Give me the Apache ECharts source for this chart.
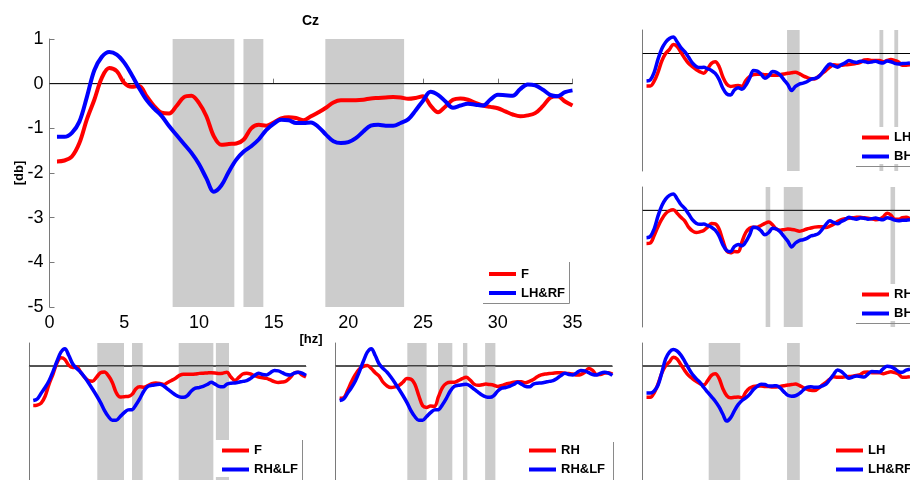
<!DOCTYPE html>
<html><head><meta charset="utf-8">
<script src="https://cdn.jsdelivr.net/npm/echarts@6/dist/echarts.min.js"></script>
<style>html,body{margin:0;padding:0;background:#fff}#c{width:910px;height:480px}</style>
</head><body><div id="c"></div>
<script>
// ---- data ----
const freq = [0.5,1,1.5,2,2.5,3,3.5,4,4.5,5,5.5,6,6.5,7,7.5,8,8.5,9,9.5,10,
  10.5,11,11.5,12,12.5,13,13.5,14,14.5,15,15.5,16,16.5,17,17.5,18,18.5,19,19.5,20,
  20.5,21,21.5,22,22.5,23,23.5,24,24.5,25,25.5,26,26.5,27,27.5,28,28.5,29,29.5,30,
  30.5,31,31.5,32,32.5,33,33.5,34,34.5,35];
const F = [-1.74,-1.72,-1.63,-1.33,-0.8,-0.36,0.13,0.35,0.28,0.02,
  -0.07,-0.05,-0.28,-0.5,-0.65,-0.67,-0.5,-0.3,-0.27,-0.43,
  -0.73,-1.18,-1.37,-1.35,-1.34,-1.25,-1.0,-0.92,-0.94,-0.87,
  -0.78,-0.75,-0.77,-0.82,-0.73,-0.64,-0.54,-0.42,-0.37,-0.37,
  -0.37,-0.36,-0.33,-0.32,-0.31,-0.3,-0.31,-0.34,-0.32,-0.28,
  -0.49,-0.64,-0.51,-0.36,-0.33,-0.36,-0.43,-0.49,-0.52,-0.55,
  -0.62,-0.69,-0.73,-0.71,-0.66,-0.51,-0.32,-0.28,-0.4,-0.49];
const LH_RF = [-1.19,-1.19,-1.1,-0.85,-0.3,0.3,0.6,0.71,0.65,0.47,
  0.2,-0.1,-0.37,-0.56,-0.72,-0.95,-1.15,-1.35,-1.55,-1.8,
  -2.12,-2.42,-2.28,-1.97,-1.7,-1.52,-1.4,-1.25,-1.04,-0.9,
  -0.81,-0.82,-0.88,-0.88,-0.87,-0.97,-1.14,-1.29,-1.33,-1.31,
  -1.22,-1.07,-0.94,-0.92,-0.94,-0.94,-0.88,-0.8,-0.6,-0.38,
  -0.18,-0.25,-0.4,-0.54,-0.49,-0.45,-0.47,-0.49,-0.36,-0.25,
  -0.26,-0.27,-0.12,-0.02,-0.04,-0.13,-0.25,-0.28,-0.19,-0.15];
const RH_LF = [-1.52,-1.45,-1.2,-0.95,-0.65,-0.25,0.2,0.6,0.75,0.45,
  0.08,-0.12,-0.28,-0.5,-0.75,-1.02,-1.3,-1.6,-1.95,-2.22,
  -2.38,-2.38,-2.22,-2.05,-1.93,-1.92,-1.7,-1.42,-1.1,-0.9,
  -0.85,-0.83,-0.81,-0.88,-1.02,-1.15,-1.28,-1.36,-1.38,-1.3,
  -1.1,-0.98,-0.95,-0.9,-0.82,-0.72,-0.8,-0.9,-0.92,-0.8,
  -0.76,-0.75,-0.72,-0.68,-0.65,-0.55,-0.42,-0.33,-0.38,-0.4,
  -0.3,-0.2,-0.22,-0.3,-0.38,-0.4,-0.32,-0.28,-0.32,-0.42];
const LH = [-1.38,-1.38,-1.18,-0.8,-0.32,0.0,0.17,0.38,0.3,0.05,
  -0.2,-0.42,-0.56,-0.68,-0.78,-0.84,-0.65,-0.42,-0.35,-0.55,
  -1.0,-1.3,-1.4,-1.38,-1.36,-1.4,-1.15,-0.98,-0.9,-0.88,
  -0.88,-0.9,-0.91,-0.93,-0.93,-0.9,-0.87,-0.84,-0.82,-0.8,
  -0.86,-0.95,-1.02,-1.07,-1.08,-0.98,-0.85,-0.72,-0.58,-0.48,
  -0.5,-0.5,-0.48,-0.47,-0.45,-0.42,-0.38,-0.28,-0.27,-0.3,
  -0.3,-0.3,-0.35,-0.3,-0.26,-0.3,-0.36,-0.5,-0.5,-0.48];
const RH = [-1.42,-1.4,-1.08,-0.7,-0.38,-0.14,-0.02,0.02,-0.12,-0.3,
  -0.45,-0.72,-0.88,-0.95,-0.92,-0.86,-0.72,-0.56,-0.58,-0.8,
  -1.3,-1.75,-1.82,-1.76,-1.78,-1.35,-0.95,-0.77,-0.72,-0.72,
  -0.65,-0.56,-0.5,-0.62,-0.8,-0.85,-0.83,-0.8,-0.82,-0.85,
  -0.9,-0.86,-0.8,-0.76,-0.72,-0.7,-0.7,-0.74,-0.68,-0.6,
  -0.48,-0.4,-0.36,-0.34,-0.32,-0.3,-0.3,-0.32,-0.34,-0.36,
  -0.4,-0.38,-0.28,-0.12,-0.2,-0.38,-0.38,-0.32,-0.3,-0.36];
const BH = [-1.17,-1.12,-0.8,-0.25,0.2,0.48,0.64,0.7,0.5,0.25,
  0.08,-0.15,-0.4,-0.55,-0.6,-0.59,-0.65,-0.72,-0.85,-1.1,
  -1.48,-1.72,-1.77,-1.55,-1.46,-1.52,-1.35,-1.05,-0.72,-0.75,
  -0.88,-1.05,-0.95,-0.77,-0.8,-0.92,-1.12,-1.32,-1.57,-1.4,
  -1.3,-1.26,-1.2,-1.1,-1.06,-1.0,-0.82,-0.6,-0.45,-0.52,
  -0.58,-0.48,-0.4,-0.3,-0.35,-0.38,-0.33,-0.34,-0.38,-0.36,
  -0.33,-0.38,-0.4,-0.32,-0.35,-0.42,-0.45,-0.43,-0.42,-0.4];
// significance bands (Hz)
const bandsCz = [[8.24,12.37],[12.98,14.31],[18.46,23.73]];
const bandsLHvsBH = [[18.9,20.55],[31.0,31.5],[32.95,33.45]];
const bandsRHvsBH = [[16.1,16.7],[18.47,20.95],[32.45,33.05]];
const bandsFvsRHLF = [[8.6,11.98],[12.99,14.34],[18.9,23.28],[23.6,25.26]];
const bandsRHvsRHLF = [[9.06,11.5],[12.94,14.75],[16.1,16.65],[18.9,20.2]];
const bandsLHvsLHRF = [[8.64,12.77],[18.9,20.57]];
const xTicks = [0,5,10,15,20,25,30,35];
const yTicks = [1,0,-1,-2,-3,-4,-5];

// ---- layout ----
const RED = '#ff0000', BLUE = '#0000ff';
const FONT = 'Arial, "Liberation Sans", sans-serif';
const panels = [
  {grid:{left:49.5, top:39, width:523, height:268}, main:true,
   red:['F',F], blue:['LH&RF',LH_RF], bands:bandsCz, legend:{left:481, top:263.5}},
  {grid:{left:642.7, top:30, width:276.7, height:141},
   red:['LH',LH], blue:['BH',BH], bands:bandsLHvsBH, legend:{left:854, top:127}},
  {grid:{left:642.7, top:187, width:276.7, height:140},
   red:['RH',RH], blue:['BH',BH], bands:bandsRHvsBH, legend:{left:854, top:284}},
  {grid:{left:29.3, top:343, width:276.7, height:141},
   red:['F',F], blue:['RH&LF',RH_LF], bands:bandsFvsRHLF, legend:{left:214, top:440}},
  {grid:{left:335.7, top:343, width:276.7, height:141},
   red:['RH',RH], blue:['RH&LF',RH_LF], bands:bandsRHvsRHLF, legend:{left:521, top:440}},
  {grid:{left:642.7, top:343, width:276.7, height:141},
   red:['LH',LH], blue:['LH&RF',LH_RF], bands:bandsLHvsLHRF, legend:{left:828, top:440}}
];

const grid = [], xAxis = [], yAxis = [], series = [], legend = [];
panels.forEach((p, i) => {
  grid.push(Object.assign({containLabel:false}, p.grid));
  const axisLine = {show:true, lineStyle:{color:'#7a7a7a', width:1}};
  xAxis.push({
    gridIndex:i, type:'value', min:0, max:35, interval:5,
    axisLine: axisLine,
    axisTick: p.main ? {show:true, inside:true, length:5, lineStyle:{color:'#7a7a7a'}} : {show:false},
    axisLabel: p.main ? {show:true, fontSize:18, color:'#000', fontFamily:FONT, margin:7,
      formatter: v => xTicks.includes(v) ? String(v) : ''} : {show:false},
    splitLine:{show:false},
    name: p.main ? '[hz]' : '', nameLocation:'middle', nameGap:26, nameMoveOverlap:false,
    nameTextStyle:{fontWeight:'bold', fontSize:13, color:'#000', fontFamily:FONT}
  });
  yAxis.push({
    gridIndex:i, type:'value', min:-5, max:1, interval:1,
    axisLine: axisLine,
    axisTick: p.main ? {show:true, inside:true, length:5, lineStyle:{color:'#7a7a7a'}} : {show:false},
    axisLabel: p.main ? {show:true, fontSize:18, color:'#000', fontFamily:FONT, margin:6,
      formatter: v => yTicks.includes(v) ? String(v) : ''} : {show:false},
    splitLine:{show:false},
    name: p.main ? '[db]' : '', nameLocation:'middle', nameGap:24, nameRotate:90, nameMoveOverlap:false,
    nameTextStyle:{fontWeight:'bold', fontSize:13, color:'#000', fontFamily:FONT}
  });
  // grey significance bands
  series.push({
    type:'line', xAxisIndex:i, yAxisIndex:i, data:[], silent:true, z:1,
    markArea:{silent:true, itemStyle:{color:'#cccccc', opacity:1},
      data: p.bands.map(b => [{xAxis:b[0]}, {xAxis:b[1]}])}
  });
  // zero reference line
  series.push({
    type:'line', xAxisIndex:i, yAxisIndex:i, silent:true, z:2, symbol:'none',
    data:[[0,0],[35,0]], lineStyle:{color:'#000', width:1}, animation:false
  });
  const lw = p.main ? 4 : 3.5;
  [[p.red, RED, 3], [p.blue, BLUE, 4]].forEach(([s, col, z]) => {
    series.push({
      name:s[0], type:'line', xAxisIndex:i, yAxisIndex:i, z:z, symbol:'none', smooth:0.35,
      data: freq.map((f, k) => [f, s[1][k]]),
      lineStyle:{color:col, width:lw}, itemStyle:{color:col}, animation:false
    });
  });
  legend.push({
    data:[p.red[0], p.blue[0]], orient:'vertical', left:p.legend.left, top:p.legend.top,
    height:40, icon:'rect', itemWidth:27, itemHeight:4, itemGap:4, padding:[3,4,0,8],
    backgroundColor:'#fff', selectedMode:false, z:10,
    textStyle:{fontFamily:FONT, fontWeight:'bold', fontSize:13, color:'#000', lineHeight:15}
  });
});

const boxColor = '#8a8a8a';
const option = {
  backgroundColor:'#fff',
  animation:false,
  title:{text:'Cz', left:302, top:14, padding:0,
    textStyle:{fontFamily:FONT, fontWeight:'bold', fontSize:14, color:'#000'}},
  grid, xAxis, yAxis, series, legend,
  graphic:[
    {type:'line', z:20, shape:{x1:569.5, y1:262, x2:569.5, y2:303.5}, style:{stroke:boxColor, lineWidth:1}},
    {type:'line', z:20, shape:{x1:483, y1:303.5, x2:569.5, y2:303.5}, style:{stroke:boxColor, lineWidth:1}},
    {type:'line', z:20, shape:{x1:302.5, y1:440, x2:302.5, y2:480}, style:{stroke:boxColor, lineWidth:1}},
    {type:'line', z:20, shape:{x1:613.5, y1:442, x2:613.5, y2:480}, style:{stroke:boxColor, lineWidth:1}},
    {type:'line', z:20, shape:{x1:856, y1:166.5, x2:910, y2:166.5}, style:{stroke:boxColor, lineWidth:1}},
    {type:'line', z:20, shape:{x1:856, y1:323.5, x2:910, y2:323.5}, style:{stroke:boxColor, lineWidth:1}}
  ]
};
echarts.init(document.getElementById('c'), null, {renderer:'canvas'}).setOption(option);
</script>
</body></html>
